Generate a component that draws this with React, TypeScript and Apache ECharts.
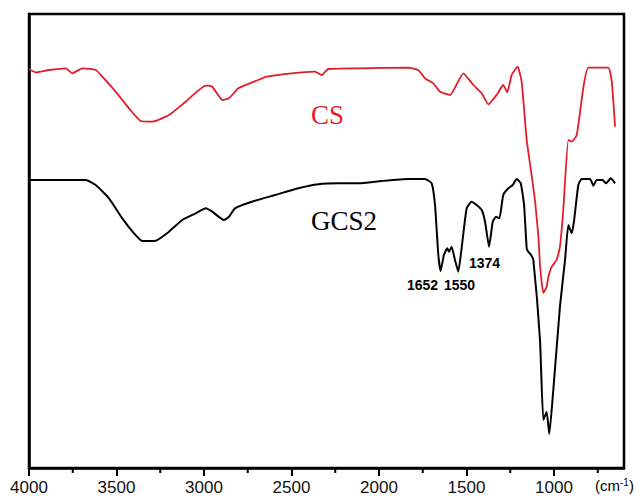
import React, { useEffect, useRef } from "react";
import * as echarts from "echarts";

// Wavenumbers (cm-1) and relative transmittance (arbitrary units)
const csWavenumber = [4000, 3962, 3886, 3790, 3753, 3695, 3619, 3581, 3505, 3429, 3362, 3295, 3200, 3105, 2990, 2953, 2895, 2857, 2804, 2690, 2642, 2499, 2366, 2328, 2290, 2118, 1833, 1776, 1737, 1690, 1651, 1594, 1518, 1461, 1413, 1375, 1328, 1290, 1267, 1242, 1208, 1185, 1156, 1128, 1109, 1090, 1080, 1070, 1061, 1042, 1032, 1013, 985, 966, 947, 918, 899, 870, 833, 804, 690, 670, 651];
const csValue = [399, 395.7, 398, 399.7, 394.7, 399.7, 398, 391.3, 376.3, 359.7, 347, 346.3, 353, 366.3, 382.3, 381.3, 368, 369.7, 379.7, 388, 391.3, 394.7, 396.3, 393, 399, 399.7, 400.3, 398, 389.7, 384.7, 376.3, 373, 394.7, 383, 374.7, 363.7, 373, 383, 375.7, 393, 401.3, 386.3, 328, 293, 268, 233, 203, 185, 175, 181.3, 191.3, 201.3, 208, 221.3, 258, 328, 326.3, 333, 379.7, 400.3, 400.3, 386.3, 341.3];

const gcsWavenumber = [4000, 3676, 3619, 3543, 3467, 3400, 3353, 3276, 3200, 3124, 3047, 2990, 2953, 2886, 2857, 2823, 2727, 2594, 2461, 2347, 2233, 2118, 1985, 1833, 1737, 1699, 1680, 1661, 1648, 1629, 1610, 1600, 1585, 1566, 1547, 1528, 1499, 1471, 1442, 1413, 1394, 1371, 1350, 1331, 1312, 1290, 1261, 1236, 1213, 1190, 1171, 1156, 1147, 1131, 1118, 1080, 1061, 1042, 1027, 1004, 966, 937, 918, 899, 886, 861, 842, 794, 775, 756, 722, 703, 676, 651];
const gcsValue = [288, 288, 283, 269.7, 249.7, 234.7, 227, 227.3, 236.3, 248, 254.7, 259.7, 256.3, 248, 251.3, 259.7, 266.3, 273, 279.7, 283.7, 284.7, 284.7, 287, 289, 289, 284.7, 263, 213, 197, 213, 219.7, 216.3, 221.3, 208, 196.3, 219.7, 259.7, 266.3, 263, 258, 246.3, 221.3, 246.3, 251.3, 249.7, 273, 279.7, 283, 289, 284.7, 263, 219.7, 216.3, 213, 208, 128, 48, 56.3, 34, 78, 161.3, 208, 243, 234.7, 246.3, 283, 289, 289, 282.3, 288, 288, 284.7, 289.7, 284.7];

const xMajorTicks = [1000, 1500, 2000, 2500, 3000, 3500, 4000];
const xMinorTicks = [750, 1250, 1750, 2250, 2750, 3250, 3750];

const seriesNames = ["CS", "GCS2"];
const peakLabels = ["1652", "1550", "1374"];

export default function App() {
  const ref = useRef<HTMLDivElement>(null);

  useEffect(() => {
    if (!ref.current) return;
    const chart = echarts.init(ref.current, null, { renderer: "svg" });
    const csData = csWavenumber.map((w, i) => [w, csValue[i]]);
    const gcsData = gcsWavenumber.map((w, i) => [w, gcsValue[i]]);
    const labelFont = "Liberation Sans, Arial, sans-serif";
    const serifFont = "Liberation Serif, Times New Roman, serif";

    chart.setOption({
      animation: false,
      backgroundColor: "#ffffff",
      grid: {
        left: 29,
        top: 14,
        right: 13,
        bottom: 28,
        show: true,
        borderColor: "#000",
        borderWidth: 2.5,
        containLabel: false,
      },
      xAxis: {
        type: "value",
        min: 600,
        max: 4000,
        interval: 500,
        inverse: true,
        position: "bottom",
        splitLine: { show: false },
        axisLine: { show: true, onZero: false, lineStyle: { color: "#000", width: 2.5 } },
        axisTick: {
          show: true,
          customValues: xMajorTicks,
          length: 8,
          lineStyle: { color: "#000", width: 2 },
        },
        axisLabel: {
          show: true,
          customValues: xMajorTicks,
          margin: 11,
          color: "#111",
          fontSize: 17,
          fontFamily: labelFont,
          formatter: (v: number) => String(v),
        },
      },
      yAxis: {
        type: "value",
        min: 0,
        max: 454,
        show: true,
        axisLine: { show: true, lineStyle: { color: "#000", width: 2.5 } },
        axisTick: { show: false },
        axisLabel: { show: false },
        splitLine: { show: false },
      },
      series: [
        {
          name: seriesNames[0],
          type: "line",
          data: csData,
          showSymbol: false,
          symbol: "none",
          smooth: 0.15,
          lineStyle: { color: "#e41c2a", width: 1.8 },
        },
        {
          name: seriesNames[1],
          type: "line",
          data: gcsData,
          showSymbol: false,
          symbol: "none",
          smooth: 0.15,
          lineStyle: { color: "#000", width: 2 },
        },
        {
          name: "minorTicks",
          type: "custom",
          clip: false,
          silent: true,
          data: xMinorTicks.map((v) => [v, 0]),
          renderItem: (params: any, api: any) => {
            const p = api.coord([api.value(0), 0]);
            return {
              type: "line",
              shape: { x1: p[0], y1: p[1], x2: p[0], y2: p[1] + 5 },
              style: { stroke: "#000", lineWidth: 2 },
            };
          },
        },
      ],
      graphic: [
        {
          type: "text",
          left: 311,
          top: 101,
          style: { text: seriesNames[0], fill: "#e41c2a", font: `27px ${serifFont}` },
        },
        {
          type: "text",
          left: 311,
          top: 207,
          style: { text: seriesNames[1], fill: "#000", font: `27px ${serifFont}` },
        },
        {
          type: "text",
          left: 407,
          top: 278,
          style: { text: peakLabels[0], fill: "#000", font: `bold 14px ${labelFont}` },
        },
        {
          type: "text",
          left: 444,
          top: 278,
          style: { text: peakLabels[1], fill: "#000", font: `bold 14px ${labelFont}` },
        },
        {
          type: "text",
          left: 469,
          top: 256,
          style: { text: peakLabels[2], fill: "#000", font: `bold 14px ${labelFont}` },
        },
        {
          type: "text",
          left: 595,
          top: 477,
          style: {
            text: "(cm{s|-1})",
            fill: "#000",
            font: `15px ${labelFont}`,
            rich: {
              s: { fontSize: 10, fontFamily: labelFont, verticalAlign: "top", padding: [0, 0, 7, 0] },
            },
          },
        },
      ],
    });
    return () => chart.dispose();
  }, []);

  return (
    <div
      ref={ref}
      style={{ position: "absolute", left: 0, top: 0, width: 637, height: 496 }}
    />
  );
}
